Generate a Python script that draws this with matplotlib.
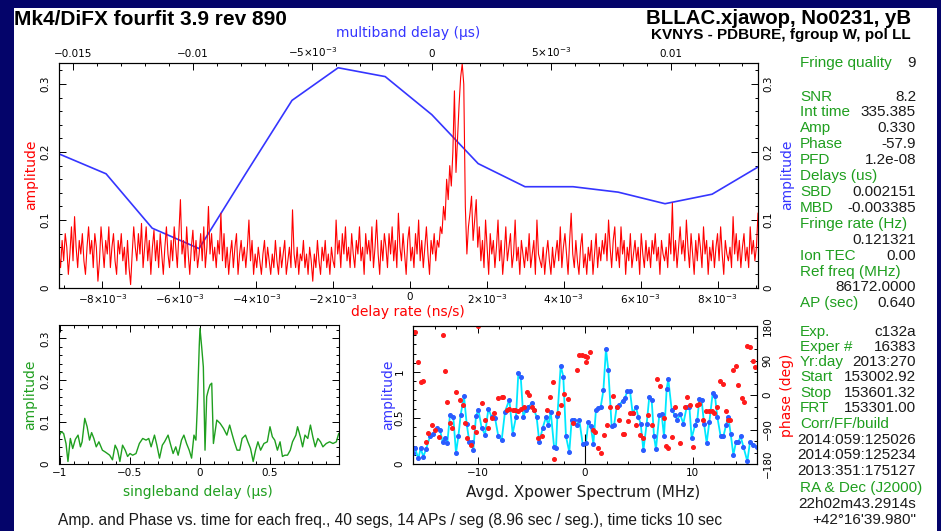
import numpy as np
import matplotlib
matplotlib.use('Agg')
import matplotlib.pyplot as plt
from matplotlib.patches import Rectangle
from matplotlib.ticker import MultipleLocator

# ── Data ────────────────────────────────────────────────────────────────────
# multiband delay (us) vs amplitude (blue, top/right axes)
mbd_x = [-0.01558, -0.01363, -0.01170, -0.00974, -0.00781, -0.00585, -0.00392,
         -0.00195, 0.0, 0.00194, 0.00390, 0.00591, 0.00780, 0.00976, 0.01173, 0.01365]
mbd_amp = [0.197, 0.168, 0.088, 0.058, 0.167, 0.276, 0.324, 0.311,
           0.255, 0.183, 0.149, 0.149, 0.141, 0.124, 0.138, 0.178]

# delay rate (ns/s) amplitude (red, bottom/left axes), evenly sampled
rate_lim = (-9.13e-3, 9.05e-3)
rate_amp = [
    .05, .03, .07, .04, .08, .06, .02, .05, .09, .04,
    .105, .06, .03, .07, .05, .08, .04, .02, .06, .09,
    .05, .07, .03, .08, .06, .01, .04, .09, .06, .03,
    .07, .05, .09, .03, .06, .08, .04, .02, .07, .05,
    .08, .04, .06, .02, .07, .03, .005, .05, .09, .06,
    .04, .08, .05, .095, .03, .06, .09, .04, .07, .02,
    .06, .085, .04, .07, .03, .08, .05, .02, .06, .09,
    .05, .03, .07, .04, .09, .06, .03, .08, .13, .05,
    .07, .03, .09, .05, .02, .06, .085, .04, .07, .03,
    .05, .08, .04, .09, .03, .06, .12, .05, .08, .04,
    .06, .03, .07, .05, .11, .04, .08, .03, .06, .02,
    .05, .07, .03, .06, .08, .02, .05, .07, .04, .06,
    .03, .06, .10, .04, .07, .02, .05, .03, .06, .04,
    .02, .05, .07, .03, .06, .04, .02, .05, .03, .07,
    .04, .02, .06, .03, .05, .07, .02, .04, .06, .03,
    .115, .05, .03, .06, .02, .05, .04, .07, .03, .05,
    .02, .06, .04, .01, .05, .03, .07, .04, .02, .06,
    .04, .07, .03, .05, .02, .06, .04, .03, .10, .05,
    .07, .03, .08, .05, .09, .04, .06, .03, .08, .05,
    .03, .07, .05, .09, .04, .06, .02, .08, .05, .07,
    .04, .09, .03, .06, .10, .05, .02, .07, .04, .08,
    .06, .03, .08, .05, .09, .04, .07, .03, .11, .06,
    .04, .08, .05, .02, .07, .09, .04, .06, .03, .08,
    .05, .10, .04, .07, .03, .06, .09, .05, .02, .07,
    .05, .08, .04, .07, .06, .09, .08, .12, .10, .16,
    .13, .18, .15, .20, .29, .17, .22, .27, .31, .33,
    .30, .12, .05, .09, .11, .135, .07, .10, .13, .06,
    .09, .04, .07, .03, .10, .06, .02, .08, .05, .07,
    .03, .06, .10, .04, .07, .02, .05, .09, .04, .06,
    .08, .03, .05, .10, .04, .06, .02, .07, .05, .03,
    .06, .04, .08, .03, .05, .07, .02, .10, .05, .04,
    .03, .06, .02, .05, .07, .04, .02, .06, .03, .05,
    .07, .04, .09, .03, .06, .08, .05, .02, .07, .11,
    .05, .03, .07, .04, .02, .06, .08, .03, .05, .02,
    .06, .04, .07, .02, .05, .08, .03, .06, .04, .07,
    .05, .08, .04, .10, .06, .03, .07, .09, .04, .06,
    .03, .09, .05, .07, .02, .06, .04, .08, .03, .05,
    .07, .04, .06, .02, .08, .05, .03, .07, .04, .06,
    .03, .07, .05, .08, .04, .06, .02, .07, .05, .04,
    .06, .03, .08, .05, .125, .04, .07, .03, .06, .09,
    .05, .07, .04, .10, .06, .03, .08, .05, .02, .07,
    .04, .08, .06, .03, .09, .05, .07, .02, .06, .04,
    .07, .03, .06, .08, .04, .09, .05, .02, .07, .05,
    .04, .06, .03, .105, .05, .08, .04, .07, .03, .06,
    .08, .04, .06, .03, .09, .05, .07, .04, .06, .11,
]

# singleband delay (us) vs amplitude (green)
sbd_x = [-1.015, -0.991, -0.974, -0.957, -0.943, -0.926, -0.909, -0.890, -0.871, -0.854,
         -0.842, -0.823, -0.806, -0.789, -0.774, -0.758, -0.741, -0.722, -0.697, -0.678,
         -0.661, -0.645, -0.625, -0.606, -0.589, -0.572, -0.553, -0.534, -0.517, -0.500,
         -0.481, -0.457, -0.433, -0.409, -0.385, -0.366, -0.349, -0.325, -0.308, -0.289,
         -0.269, -0.253, -0.228, -0.212, -0.192, -0.173, -0.156, -0.132, -0.115, -0.096,
         -0.077, -0.060, -0.043, -0.029, -0.019, -0.005, 0.0, 0.012, 0.024, 0.036,
         0.048, 0.060, 0.072, 0.084, 0.096, 0.108, 0.120, 0.144, 0.168, 0.192,
         0.212, 0.228, 0.245, 0.265, 0.284, 0.301, 0.325, 0.342, 0.361, 0.380,
         0.397, 0.414, 0.433, 0.457, 0.481, 0.500, 0.517, 0.534, 0.553, 0.572,
         0.589, 0.606, 0.625, 0.645, 0.661, 0.685, 0.697, 0.717, 0.733, 0.750,
         0.770, 0.789, 0.806, 0.823, 0.842, 0.861, 0.878, 0.902, 0.926, 0.950,
         0.974, 0.991, 1.003]
sbd_amp = [0.061, 0.077, 0.073, 0.049, 0.006, 0.061, 0.037, 0.059, 0.069, 0.041,
           0.053, 0.109, 0.089, 0.057, 0.075, 0.061, 0.041, 0.053, 0.033, 0.029,
           0.025, 0.021, 0.010, 0.045, 0.033, 0.006, 0.045, 0.033, 0.018, 0.025,
           0.021, 0.025, 0.049, 0.061, 0.057, 0.061, 0.041, 0.069, 0.045, 0.014,
           0.045, 0.053, 0.069, 0.049, 0.025, 0.041, 0.021, 0.057, 0.069, 0.049,
           0.033, 0.014, 0.069, 0.057, 0.137, 0.284, 0.324, 0.280, 0.232, 0.033,
           0.161, 0.177, 0.189, 0.193, 0.049, 0.077, 0.105, 0.097, 0.085, 0.069,
           0.093, 0.073, 0.053, 0.033, 0.033, 0.061, 0.069, 0.053, 0.037, 0.006,
           0.033, 0.053, 0.033, 0.049, 0.053, 0.089, 0.065, 0.057, 0.033, 0.053,
           0.018, 0.021, 0.021, 0.033, 0.053, 0.069, 0.089, 0.065, 0.041, 0.069,
           0.061, 0.093, 0.065, 0.041, 0.061, 0.053, 0.041, 0.049, 0.053, 0.049,
           0.053, 0.073, 0.069]

# averaged cross-power spectrum: amplitude (blue/cyan) and phase (red)
xp_x = [-16.03, -15.81, -15.50, -15.29, -15.04, -14.79, -14.42, -14.11, -13.74, -13.49,
        -13.24, -13.02, -12.81, -12.56, -12.25, -12.00, -11.78, -11.57, -11.26, -11.01,
        -10.76, -10.54, -10.39, -10.14, -9.92, -9.61, -9.30, -8.99, -8.68, -8.37,
        -8.06, -7.75, -7.44, -7.04, -6.73, -6.42, -6.20, -5.98, -5.74, -5.49,
        -5.27, -4.96, -4.74, -4.50, -4.25, -3.94, -3.63, -3.41, -3.19, -2.88,
        -2.70, -2.57, -2.26, -2.02, -1.77, -1.46, -1.24, -1.02, -0.78, -0.53,
        -0.22, 0.09, 0.31, 0.53, 0.78, 1.02, 1.24, 1.46, 1.71, 1.95,
        2.17, 2.48, 2.70, 2.95, 3.19, 3.50, 3.72, 3.94, 4.19, 4.43,
        4.74, 4.96, 5.18, 5.43, 5.74, 5.98, 6.20, 6.42, 6.60, 6.91,
        7.13, 7.35, 7.60, 7.75, 8.06, 8.37, 8.59, 8.84, 9.15, 9.46,
        9.71, 9.92, 10.23, 10.45, 10.64, 10.85, 11.07, 11.32, 11.57, 11.88,
        12.09, 12.31, 12.62, 12.87, 13.12, 13.33, 13.55, 13.80, 14.05, 14.26,
        14.48, 14.73, 15.10, 15.35, 15.66, 15.97]
xp_amp = [0.12, 0.17, 0.06, 0.17, 0.08, 0.16, 0.30, 0.33, 0.39, 0.37,
          0.24, 0.28, 0.23, 0.53, 0.51, 0.12, 0.30, 0.53, 0.74, 0.44,
          0.24, 0.24, 0.15, 0.52, 0.59, 0.39, 0.32, 0.60, 0.51, 0.50,
          0.30, 0.26, 0.57, 0.70, 0.33, 0.51, 0.99, 0.95, 0.51, 0.59,
          0.62, 0.66, 0.59, 0.51, 0.24, 0.39, 0.51, 0.42, 0.57, 0.19,
          0.17, 0.52, 1.07, 0.95, 0.30, 0.13, 0.48, 0.48, 0.42, 0.48,
          0.22, 0.23, 0.46, 0.41, 0.22, 0.59, 0.61, 0.62, 0.80, 1.25,
          1.02, 0.41, 0.42, 0.62, 0.64, 0.69, 0.72, 0.79, 0.79, 0.55,
          0.62, 0.51, 0.44, 0.15, 0.44, 0.73, 0.70, 0.30, 0.16, 0.53,
          0.54, 0.30, 0.82, 0.92, 0.59, 0.53, 0.48, 0.54, 0.44, 0.62,
          0.62, 0.28, 0.42, 0.48, 0.71, 0.70, 0.44, 0.23, 0.46, 0.77,
          0.74, 0.51, 0.30, 0.30, 0.42, 0.51, 0.33, 0.10, 0.24, 0.24,
          0.30, 0.19, 0.03, 0.24, 0.21, 0.19]
ph_x = [-16.03, -15.81, -15.50, -15.29, -15.04, -14.79, -14.57, -14.26, -13.95, -13.55,
        -13.24, -13.02, -12.81, -12.56, -12.40, -12.00, -11.63, -11.38, -11.16, -10.95,
        -10.64, -10.39, -10.14, -9.92, -9.61, -9.30, -8.99, -8.68, -8.46, -8.06,
        -7.75, -7.60, -7.29, -7.04, -6.73, -6.51, -6.20, -5.98, -5.67, -5.43,
        -5.18, -4.96, -4.74, -4.34, -4.03, -3.57, -3.26, -3.01, -2.88, -2.48,
        -2.26, -1.95, -1.55, -1.15, -0.78, -0.53, -0.28, 0.00, 0.09, 0.22,
        0.47, 0.71, 0.93, 1.24, 1.46, 1.77, 2.02, 2.33, 2.64, 2.95,
        3.19, 3.50, 3.63, 4.03, 4.19, 4.43, 4.74, 5.12, 5.43, 5.89,
        6.20, 6.67, 6.98, 7.35, 7.53, 7.75, 8.06, 8.37, 8.84, 9.30,
        9.52, 9.77, 10.08, 10.45, 10.64, 11.01, 11.26, 11.57, 11.78, 12.00,
        12.25, 12.56, 12.81, 13.12, 13.33, 13.49, 13.80, 14.02, 14.26, 14.57,
        14.79, 15.10, 15.35, 15.60, 15.81]
ph_deg = [165, 165, 87, 35, 37, -122, -98, -78, -91, -109,
          157, 63, -17, -74, -87, 9, -13, -26, -74, -113,
          -130, -83, -96, 180, -20, -65, -87, -61, -48, -9,
          -6, -6, -39, -37, -39, -39, -41, -37, -32, 9,
          0, -32, -39, -113, -107, -39, -4, 35, -168, -48,
          -26, 3, -11, -74, 65, 104, 104, 102, 87, 100,
          111, -91, -96, -137, -150, -104, -78, -30, -3, -30,
          -65, -102, -102, -67, -48, -48, -78, -104, -113, -52,
          -78, 43, 23, -61, -133, -137, -109, -30, -126, -30,
          -6, -26, -135, -26, -24, -65, -43, -43, -43, -48,
          -30, 37, 29, -43, -65, -65, 64, 76, 26, -9,
          -17, 128, 124, 90, 74]
fringe_amp = 0.330

# tick values / labels
amp_ticks = [0, 0.1, 0.2, 0.3]
amp_ticklabels = ['0', '0.1', '0.2', '0.3']
mbd_ticks = [-0.015, -0.01, -0.005, 0, 0.005, 0.01]
mbd_ticklabels = ['\u22120.015', '\u22120.01', r'$-5{\times}10^{-3}$', '0',
                  r'$5{\times}10^{-3}$', '0.01']
rate_ticks = [-8e-3, -6e-3, -4e-3, -2e-3, 0, 2e-3, 4e-3, 6e-3, 8e-3]
rate_ticklabels = [r'$-8{\times}10^{-3}$', r'$-6{\times}10^{-3}$', r'$-4{\times}10^{-3}$',
                   r'$-2{\times}10^{-3}$', '0', r'$2{\times}10^{-3}$', r'$4{\times}10^{-3}$',
                   r'$6{\times}10^{-3}$', r'$8{\times}10^{-3}$']
sbd_ticks = [-1, -0.5, 0, 0.5]
sbd_ticklabels = ['\u22121', '\u22120.5', '0', '0.5']
xp_ticks = [-10, 0, 10]
xp_ticklabels = ['\u221210', '0', '10']
xpamp_ticks = [0, 0.5, 1]
xpamp_ticklabels = ['0', '0.5', '1']
ph_ticks = [-180, -90, 0, 90, 180]
ph_ticklabels = ['\u2212180', '\u221290', '0', '90', '180']

# text panel on the right
panel_labels = ['Fringe quality', 'SNR', 'Int time', 'Amp', 'Phase', 'PFD', 'Delays (us)',
                'SBD', 'MBD', 'Fringe rate (Hz)', '', 'Ion TEC', 'Ref freq (MHz)', '',
                'AP (sec)', 'Exp.', 'Exper #', 'Yr:day', 'Start', 'Stop', 'FRT',
                'Corr/FF/build', '', '', '', 'RA & Dec (J2000)', '', '']
panel_values = ['9', '8.2', '335.385', '0.330', '-57.9', '1.2e-08', '',
                '0.002151', '-0.003385', '', '0.121321', '0.00', '', '86172.0000',
                '0.640', 'c132a', '16383', '2013:270', '153002.92', '153601.32', '153301.00',
                '', '2014:059:125026', '2014:059:125234', '2013:351:175127', '',
                '22h02m43.2914s', '+42\u00b016\'39.980"']
panel_y = [63, 97, 112, 128, 144, 160, 176, 192, 208, 224, 240, 256, 272, 287,
           303, 332, 347, 362, 377, 393, 408, 424, 440, 455, 471, 488, 504, 520]

# ── Style ───────────────────────────────────────────────────────────────────
W, H = 941, 531
NAVY = '#04046a'
GREEN = '#1f9f1f'
BLUE = '#3535ff'
RED = '#ff0000'
INK = '#1a1a1a'
plt.rcParams['font.family'] = ['DejaVu Sans']
plt.rcParams['mathtext.fontset'] = 'dejavusans'
TICK_FS = 7.5
LAB_FS = 10
TXT = 'Liberation Sans'


def rect(x0, y0, x1, y1):
    return [x0 / W, 1 - y1 / H, (x1 - x0) / W, (y1 - y0) / H]


def ftext(x, y, s, **kw):
    return fig.text(x / W, 1 - y / H, s, **kw)


def ticks_in(ax, **kw):
    ax.tick_params(which='both', direction='in', width=0.7, labelsize=TICK_FS,
                   colors='black', **kw)
    ax.tick_params(which='major', length=5)
    ax.tick_params(which='minor', length=2.5)
    for s in ax.spines.values():
        s.set_linewidth(0.8)


def rotate_ylabels(ax):
    ax.tick_params(axis='y', labelrotation=90)
    for lbl in ax.get_yticklabels():
        lbl.set_va('center')


fig = plt.figure(figsize=(W / 100, H / 100), dpi=100, facecolor=NAVY)
fig.patches.append(Rectangle((14 / W, 0), (937 - 14) / W, (H - 8) / H,
                             transform=fig.transFigure, facecolor='white',
                             edgecolor='none', zorder=-5))

# ── Top panel: multiband delay (blue) under delay rate (red) ───────────────
top = rect(59, 63, 758, 288)
ax_mbd = fig.add_axes(top)
ax_mbd.plot(mbd_x, mbd_amp, color=BLUE, lw=1.2)
ax_mbd.set_xlim(-0.0156, 0.01365)
ax_mbd.set_ylim(0, 0.331)
ax_mbd.set_xticks(mbd_ticks, labels=mbd_ticklabels)
ax_mbd.xaxis.set_minor_locator(MultipleLocator(0.001))
ax_mbd.set_yticks(amp_ticks, labels=amp_ticklabels)
ax_mbd.yaxis.set_minor_locator(MultipleLocator(0.02))
ticks_in(ax_mbd, top=True, bottom=False, left=False, right=True,
         labeltop=True, labelbottom=False, labelleft=False, labelright=True)
ax_mbd.tick_params(axis='x', pad=3)
ax_mbd.tick_params(axis='y', pad=4)
rotate_ylabels(ax_mbd)

ax_rate = fig.add_axes(top, facecolor='none')
rate_x = np.linspace(rate_lim[0], rate_lim[1], len(rate_amp))
ax_rate.plot(rate_x, rate_amp, color=RED, lw=0.8)
ax_rate.set_xlim(*rate_lim)
ax_rate.set_ylim(0, 0.331)
ax_rate.set_xticks(rate_ticks, labels=rate_ticklabels)
ax_rate.xaxis.set_minor_locator(MultipleLocator(0.001))
ax_rate.set_yticks(amp_ticks, labels=amp_ticklabels)
ax_rate.yaxis.set_minor_locator(MultipleLocator(0.02))
ticks_in(ax_rate, top=False, bottom=True, left=True, right=False)
ax_rate.tick_params(axis='x', pad=3)
ax_rate.tick_params(axis='y', pad=6)
rotate_ylabels(ax_rate)

ftext(408, 33, 'multiband delay (\u03bcs)', color=BLUE, fontsize=LAB_FS, ha='center', va='center')
ftext(408, 312, 'delay rate (ns/s)', color=RED, fontsize=LAB_FS, ha='center', va='center')
ftext(31, 175, 'amplitude', color=RED, fontsize=LAB_FS, rotation=90, ha='center', va='center')
ftext(787, 175, 'amplitude', color=BLUE, fontsize=LAB_FS, rotation=90, ha='center', va='center')

# ── Bottom left: singleband delay ──────────────────────────────────────────
ax_sbd = fig.add_axes(rect(59, 325, 339, 464))
ax_sbd.plot(sbd_x, sbd_amp, color=GREEN, lw=1.0)
ax_sbd.set_xlim(-1.007, 0.993)
ax_sbd.set_ylim(0, 0.332)
ax_sbd.set_xticks(sbd_ticks, labels=sbd_ticklabels)
ax_sbd.xaxis.set_minor_locator(MultipleLocator(0.1))
ax_sbd.set_yticks(amp_ticks, labels=amp_ticklabels)
ax_sbd.yaxis.set_minor_locator(MultipleLocator(0.02))
ticks_in(ax_sbd, top=True, right=True)
ax_sbd.tick_params(axis='x', pad=3)
ax_sbd.tick_params(axis='y', pad=6)
rotate_ylabels(ax_sbd)
ftext(30, 395, 'amplitude', color=GREEN, fontsize=LAB_FS, rotation=90, ha='center', va='center')
ftext(198, 492, 'singleband delay (\u03bcs)', color=GREEN, fontsize=LAB_FS, ha='center', va='center')

# ── Bottom right: averaged cross-power spectrum ────────────────────────────
ax_xp = fig.add_axes(rect(413, 326, 757, 464))
ax_xp.plot(xp_x, xp_amp, color='#00e8ff', lw=1.3, zorder=2)
ax_xp.plot(xp_x, xp_amp, ls='none', marker='o', ms=2.6, mfc='#2a5cff', mec='#2a5cff', zorder=3)
ax_xp.vlines(0, 0, fringe_amp, color='black', lw=0.8)
ax_xp.set_xlim(-16, 16)
ax_xp.set_ylim(0, 1.5)
ax_xp.set_xticks(xp_ticks, labels=xp_ticklabels)
ax_xp.xaxis.set_minor_locator(MultipleLocator(2))
ax_xp.set_yticks(xpamp_ticks, labels=xpamp_ticklabels)
ax_xp.yaxis.set_minor_locator(MultipleLocator(0.1))
ticks_in(ax_xp, top=True, right=False)
ax_xp.tick_params(axis='x', pad=3)
ax_xp.tick_params(axis='y', pad=6)
rotate_ylabels(ax_xp)

ax_ph = ax_xp.twinx()
ax_ph.plot(ph_x, ph_deg, ls='none', marker='o', ms=2.6, mfc='#ff1a1a', mec='#ff1a1a')
ax_ph.set_ylim(-180, 180)
ax_ph.set_xlim(-16, 16)
ax_ph.set_yticks(ph_ticks, labels=ph_ticklabels)
ax_ph.yaxis.set_minor_locator(MultipleLocator(30))
ticks_in(ax_ph, right=True, left=False)
ax_ph.tick_params(axis='y', pad=4)
rotate_ylabels(ax_ph)

ftext(388, 395, 'amplitude', color=BLUE, fontsize=LAB_FS, rotation=90, ha='center', va='center')
ftext(787, 395, 'phase (deg)', color=RED, fontsize=LAB_FS, rotation=90, ha='center', va='center')
ftext(583, 492, 'Avgd. Xpower Spectrum (MHz)', color=INK, fontsize=11, ha='center', va='center')

# ── Titles, text panel, footnote ───────────────────────────────────────────
ftext(14, 25, 'Mk4/DiFX fourfit 3.9 rev 890', family=TXT, weight='bold', fontsize=15,
      color='black', ha='left', va='baseline')
ftext(911, 23.5, 'BLLAC.xjawop, No0231, yB', family=TXT, weight='bold', fontsize=14.7,
      color='black', ha='right', va='baseline')
ftext(911, 38.5, 'KVNYS - PDBURE, fgroup W, pol LL', family=TXT, weight='bold', fontsize=11,
      color='black', ha='right', va='baseline')

for lab, val, y in zip(panel_labels, panel_values, panel_y):
    if lab:
        ftext(800, y, lab, family=TXT, fontsize=11, color=GREEN, ha='left', va='center')
    if val:
        ftext(916, y, val, family=TXT, fontsize=11, color=INK, ha='right', va='center')

ftext(58, 521, 'Amp. and Phase vs. time for each freq., 40 segs, 14 APs / seg (8.96 sec / seg.), '
      'time ticks 10 sec', family=TXT, fontsize=11.2, color=INK, ha='left', va='center')

fig.savefig('out.png', dpi=100, facecolor=NAVY)
